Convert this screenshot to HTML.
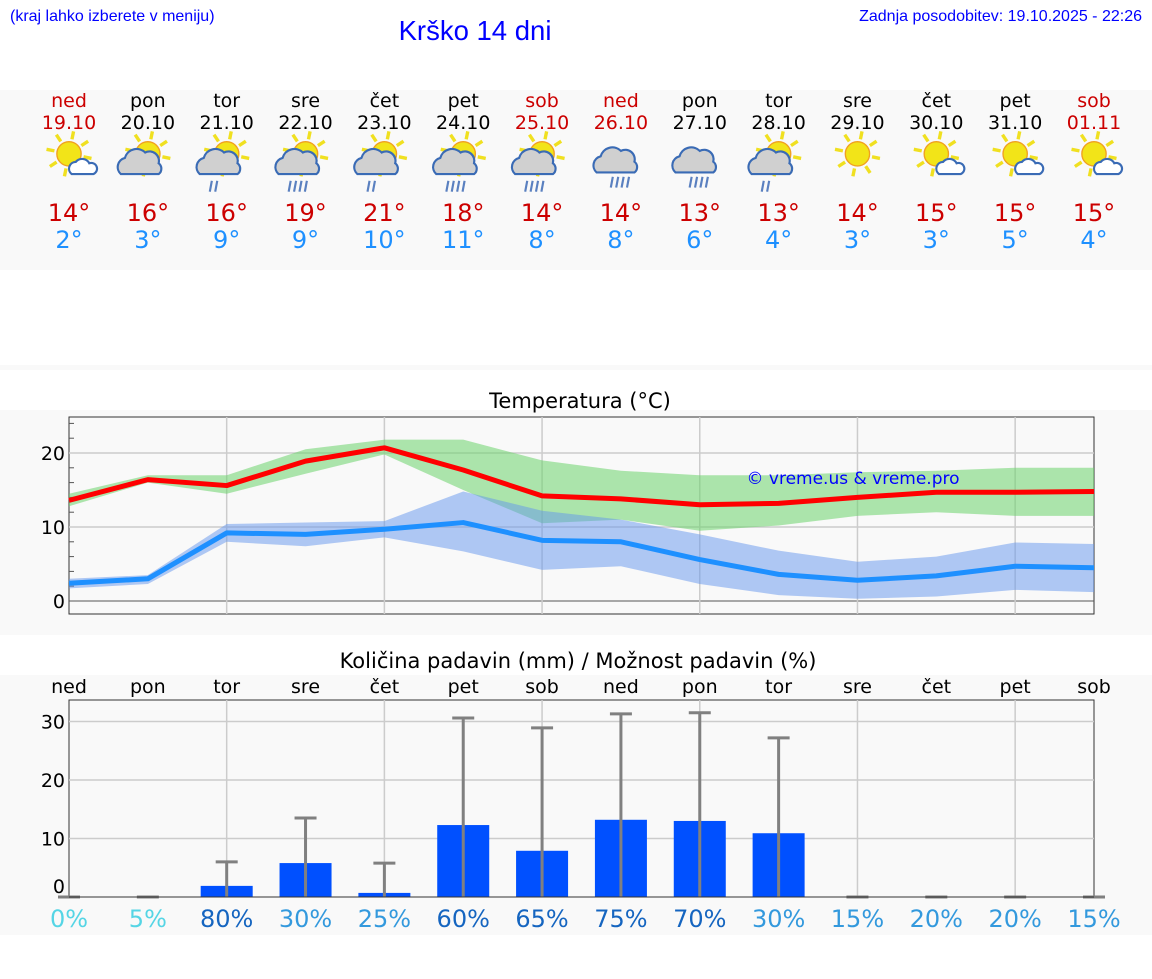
<!DOCTYPE html>
<html><head><meta charset="utf-8"><style>
body{margin:0;width:1152px;height:975px;background:#fff;font-family:"DejaVu Sans","Liberation Sans",sans-serif;overflow:hidden}
svg text{font-family:"DejaVu Sans","Liberation Sans",sans-serif}
</style></head><body>
<svg id="s" width="1152" height="975" xmlns="http://www.w3.org/2000/svg">
<rect x="0" y="90" width="1152" height="180" fill="#f9f9f9"/>
<rect x="0" y="365" width="1152" height="5" fill="#f9f9f9"/>
<rect x="0" y="410" width="1152" height="225" fill="#f9f9f9"/>
<rect x="0" y="675" width="1152" height="260" fill="#f9f9f9"/>
<text x="10" y="21" font-size="16" fill="#0000ff" style="font-family:'Liberation Sans',sans-serif">(kraj lahko izberete v meniju)</text>
<text x="475" y="40" font-size="27.5" fill="#0000ff" text-anchor="middle" style="font-family:'Liberation Sans',sans-serif">Krško 14 dni</text>
<text x="1142" y="21" font-size="16" fill="#0000ff" text-anchor="end" style="font-family:'Liberation Sans',sans-serif">Zadnja posodobitev: 19.10.2025 - 22:26</text>
<text x="580" y="408" font-size="21" text-anchor="middle">Temperatura (°C)</text>
<text x="578" y="668" font-size="21" text-anchor="middle">Količina padavin (mm) / Možnost padavin (%)</text>
<g id="days"></g><g id="temp"></g><g id="prec"></g>
</svg>
<script>
const days=["ned","pon","tor","sre","čet","pet","sob","ned","pon","tor","sre","čet","pet","sob"];
const dates=["19.10","20.10","21.10","22.10","23.10","24.10","25.10","26.10","27.10","28.10","29.10","30.10","31.10","01.11"];
const hiLabel=[14,16,16,19,21,18,14,14,13,13,14,15,15,15];
const loLabel=[2,3,9,9,10,11,8,8,6,4,3,3,5,4];
const icons=["sc","sc2","sr1","sr2","sr1","sr2","sr2","r","r","sr1","s","sc","sc","sc"];
const tMax=[13.6,16.4,15.6,18.9,20.7,17.7,14.2,13.8,13.0,13.2,14.0,14.7,14.7,14.8];
const tMaxHi=[14.5,17,17,20.5,21.8,21.8,19,17.6,17.0,17,17.4,17.6,18,18];
const tMaxLo=[12.8,16,14.5,17.2,19.8,15,10.5,11,9.5,10.2,11.5,12,11.5,11.5];
const tMin=[2.4,3.0,9.2,9.0,9.7,10.6,8.2,8.0,5.6,3.6,2.8,3.4,4.7,4.5];
const tMinHi=[3.0,3.5,10.4,10.6,10.8,14.8,12.2,11.0,9,6.8,5.3,6.0,7.9,7.7];
const tMinLo=[1.7,2.3,8.0,7.4,8.6,6.7,4.2,4.7,2.3,0.8,0.3,0.6,1.5,1.2];
const precip=[0,0,1.9,5.8,0.7,12.3,7.9,13.2,13.0,10.9,0,0,0,0];
const precipMax=[0,0,6.0,13.5,5.8,30.6,28.9,31.3,31.5,27.2,0,0,0,0];
const chance=[0,5,80,30,25,60,65,75,70,30,15,20,20,15];
const tempTicks=[0,10,20];
const precTicks=[0,10,20,30];
const NS="http://www.w3.org/2000/svg";
function mk(p,t,a){const e=document.createElementNS(NS,t);for(const k in a)e.setAttribute(k,a[k]);p.appendChild(e);return e;}
const X0=69,X1=1094,n=14;
const xs=i=>X0+i*(X1-X0)/(n-1);
const yT=v=>601-v*7.4;
const yP=v=>897-v*5.85;
const red="#cc0000";
const D=document.getElementById('days');
days.forEach((d,i)=>{
  const x=xs(i),we=(d==="ned"||d==="sob");
  let t=mk(D,'text',{x:x,y:107,'font-size':19,'text-anchor':'middle',fill:we?red:'#000'});t.textContent=d;
  
  t=mk(D,'text',{x:x,y:129,'font-size':19,'text-anchor':'middle',fill:we?red:'#000'});t.textContent=dates[i];
  
  t=mk(D,'text',{x:x,y:221,'font-size':24,'text-anchor':'middle',fill:red});t.textContent=hiLabel[i]+"°";
  
  t=mk(D,'text',{x:x,y:248,'font-size':24,'text-anchor':'middle',fill:'#1e90ff'});t.textContent=loLabel[i]+"°";
  
  const g=mk(D,'g',{transform:`translate(${x} 166) scale(1.35) translate(${-x} -166)`});
  
  const k=icons[i];
  const sx=k==="r"?x+10:x, sy=157;
  if(k!=="r"){
    for(let a=0;a<8;a++){const an=a*Math.PI/4+0.2;mk(g,'line',{x1:sx+Math.cos(an)*11,y1:sy+Math.sin(an)*11,x2:sx+Math.cos(an)*17,y2:sy+Math.sin(an)*17,stroke:'#f0e020','stroke-width':2.5});}
    mk(g,'circle',{cx:sx,cy:sy,r:9,fill:'#f2e418',stroke:'#f0a020','stroke-width':1});
  }
  if(k==="sc"){mk(g,'path',{d:`M${x+2} ${172} a5 5 0 0 1 3-9 a6 6 0 0 1 10 1 a4 4 0 0 1 3 8 z`,fill:'#fff',stroke:'#3a6bb5','stroke-width':1.6});}
  else if(k!=="s"){
    const cx=k==="r"?x:x-5, cy=k==="r"?160:163;
    const sc=k==="r"?1.2:1;
    mk(g,'path',{d:`M${cx-15*sc} ${cy+9*sc} a7 7 0 0 1 3-12 a9 9 0 0 1 15-4 a7 7 0 0 1 10 8 a5 5 0 0 1 0 8 z`,fill:'#d0d0d0',stroke:'#3a6bb5','stroke-width':1.6});
    if(k!=="sc2"){const nr=k==="sr1"?2:4;for(let r=0;r<nr;r++){mk(g,'line',{x1:cx-6+r*4,y1:cy+14,x2:cx-7.5+r*4,y2:cy+22,stroke:'#5a80c0','stroke-width':1.6});}}
  }
});
const T=document.getElementById('temp');
mk(T,'rect',{x:X0,y:417,width:X1-X0,height:197,fill:'#f9f9f9',stroke:'#333','stroke-width':1});
tempTicks.forEach(v=>{
  mk(T,'line',{x1:X0,x2:X1,y1:yT(v),y2:yT(v),stroke:v===0?'#555':'#ccc','stroke-width':v===0?1:1.5});
  const t=mk(T,'text',{x:X0-4,y:yT(v)+7,'font-size':19,'text-anchor':'end'});t.textContent=v;
  
});
for(let v=2;v<=24;v+=2){if(v%10)mk(T,'line',{x1:X0,x2:X0+5,y1:yT(v),y2:yT(v),stroke:'#555'});}
for(let i=2;i<n;i+=2)mk(T,'line',{x1:xs(i),x2:xs(i),y1:417,y2:614,stroke:'#ccc','stroke-width':1.5});
function band(hi,lo,col,op,name){
  let d='M'+hi.map((v,i)=>xs(i)+' '+yT(v)).join(' L');
  d+=' L'+lo.map((v,i)=>xs(i)+' '+yT(v)).reverse().join(' L')+' Z';
  const p=mk(T,'path',{d:d,fill:col,'fill-opacity':op});
  
}
function line(arr,col,name){
  const p=mk(T,'polyline',{points:arr.map((v,i)=>xs(i)+','+yT(v)).join(' '),fill:'none',stroke:col,'stroke-width':5,'stroke-linejoin':'round'});
  
}
band(tMaxHi,tMaxLo,'#6cd46c',0.55,'max-temp-band');
band(tMinHi,tMinLo,'#6495ed',0.5,'min-temp-band');
line(tMin,'#1e90ff','min-temp-line');
line(tMax,'#ff0000','max-temp-line');
let wm=mk(T,'text',{x:853,y:484,'font-size':17,'text-anchor':'middle',fill:'#0000ff'});wm.textContent="© vreme.us & vreme.pro";

const P=document.getElementById('prec');
mk(P,'rect',{x:X0,y:700,width:X1-X0,height:197,fill:'#f9f9f9',stroke:'#333','stroke-width':1});
precTicks.forEach(v=>{
  if(v>0)mk(P,'line',{x1:X0,x2:X1,y1:yP(v),y2:yP(v),stroke:'#ccc','stroke-width':1.5});
  const t=mk(P,'text',{x:X0-4,y:yP(v)+7-(v===0?11:0),'font-size':19,'text-anchor':'end'});t.textContent=v;
  
});
for(let i=2;i<n;i+=2)mk(P,'line',{x1:xs(i),x2:xs(i),y1:700,y2:897,stroke:'#ccc','stroke-width':1.5});
days.forEach((d,i)=>{
  const x=xs(i);
  let t=mk(P,'text',{x:x,y:693,'font-size':19,'text-anchor':'middle'});t.textContent=d;
  
  if(precip[i]>0){const r=mk(P,'rect',{x:x-26,y:yP(precip[i]),width:52,height:yP(0)-yP(precip[i]),fill:'#0050ff'});
    }
  const e=mk(P,'g',{stroke:'#808080','stroke-width':3});
  
  mk(e,'line',{x1:x,x2:x,y1:yP(0),y2:yP(precipMax[i])});
  mk(e,'line',{x1:x-11,x2:x+11,y1:yP(precipMax[i]),y2:yP(precipMax[i])});
  const c=chance[i];
  t=mk(P,'text',{x:x,y:927,'font-size':24,'text-anchor':'middle',fill:c<=5?'#55d5e5':(c<=30?'#3399dd':'#1565c0')});t.textContent=c+"%";
  
});
mk(P,'line',{x1:X0,x2:X1,y1:897,y2:897,stroke:'#333'});
</script>
</body></html>
